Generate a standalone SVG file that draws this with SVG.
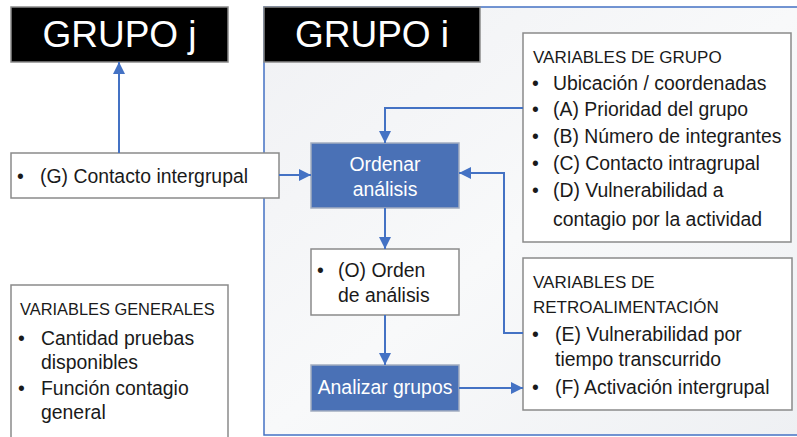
<svg xmlns="http://www.w3.org/2000/svg" width="797" height="437" viewBox="0 0 797 437">
<style>
text{font-family:"Liberation Sans",Arial,sans-serif;fill:#1a1a1a;font-size:19.4px}
.title{fill:#fff;font-size:37px;text-anchor:middle}
.hdr{font-size:17px}
.hdr2{font-size:16.4px}
.wt{fill:#fff;text-anchor:middle}
.box{fill:#fff;stroke:#8a8a8a;stroke-width:1.5}
.blue{fill:#4a71b6;stroke:#a3adc0;stroke-width:1.5}
.blk{fill:#000;stroke:#8a8a8a;stroke-width:1.5}
.con{fill:none;stroke:#4472c4;stroke-width:2}
</style>
<defs>
<linearGradient id="bg" x1="0" y1="0" x2="1" y2="1">
<stop offset="0" stop-color="#f0f1f4"/><stop offset="0.5" stop-color="#f8f9fa"/><stop offset="1" stop-color="#eef0f3"/>
</linearGradient>
<marker id="ah" viewBox="0 0 12 12" refX="12" refY="6" markerWidth="12" markerHeight="12" markerUnits="userSpaceOnUse" orient="auto">
<path d="M0,0 L12,6 L0,12 Z" fill="#4472c4"/>
</marker>
</defs>
<rect x="0" y="0" width="797" height="437" fill="#fff"/>
<g id="frame">
<rect x="264" y="7" width="540" height="428" fill="url(#bg)" stroke="#4472c4" stroke-width="1.5"/>
</g>
<g id="grupo-j"><rect class="blk" x="11" y="7" width="217" height="55"/><text class="title" x="119.5" y="47">GRUPO j</text></g>
<g id="grupo-i"><rect class="blk" x="264" y="7" width="216" height="55"/><text class="title" x="372" y="47">GRUPO i</text></g>
<g id="contacto"><rect class="box" x="11" y="153" width="268" height="45"/><text x="17" y="183">•</text><text x="40" y="183">(G) Contacto intergrupal</text></g>
<g id="ordenar"><rect class="blue" x="311" y="143" width="148" height="65"/><text class="wt" x="385" y="171">Ordenar</text><text class="wt" x="385" y="196">análisis</text></g>
<g id="orden"><rect class="box" x="311" y="249" width="148" height="66"/><text x="317" y="277">•</text><text x="338" y="277">(O) Orden</text><text x="338" y="302">de análisis</text></g>
<g id="analizar"><rect class="blue" x="311" y="365" width="148" height="46"/><text class="wt" x="385" y="394">Analizar grupos</text></g>
<g id="var-grupo"><rect class="box" x="523" y="33" width="268" height="209"/>
<text class="hdr" x="533" y="63">VARIABLES DE GRUPO</text>
<text x="532" y="90">•</text><text x="553" y="90">Ubicación / coordenadas</text>
<text x="532" y="116">•</text><text x="553" y="116">(A) Prioridad del grupo</text>
<text x="532" y="143">•</text><text x="553" y="143">(B) Número de integrantes</text>
<text x="532" y="170">•</text><text x="553" y="170">(C) Contacto intragrupal</text>
<text x="532" y="197">•</text><text x="553" y="197">(D) Vulnerabilidad a</text>
<text x="553" y="226">contagio por la actividad</text>
</g>
<g id="var-retro"><rect class="box" x="523" y="258" width="269" height="152"/>
<text class="hdr" x="533" y="288">VARIABLES DE</text>
<text class="hdr" x="533" y="313">RETROALIMENTACIÓN</text>
<text x="532" y="341">•</text><text x="555" y="341">(E) Vulnerabilidad por</text>
<text x="555" y="366">tiempo transcurrido</text>
<text x="532" y="394">•</text><text x="555" y="394">(F) Activación intergrupal</text>
</g>
<g id="var-generales"><rect class="box" x="11" y="285" width="217" height="160"/>
<text class="hdr2" x="20" y="315">VARIABLES GENERALES</text>
<text x="18" y="345">•</text><text x="41" y="345">Cantidad pruebas</text>
<text x="41" y="369">disponibles</text>
<text x="18" y="395">•</text><text x="41" y="395">Función contagio</text>
<text x="41" y="419">general</text>
</g>
<g id="connectors">
<path class="con" d="M119,153 V62" marker-end="url(#ah)"/>
<path class="con" d="M279,175 H311" marker-end="url(#ah)"/>
<path class="con" d="M523,108 H385 V143" marker-end="url(#ah)"/>
<path class="con" d="M523,333 H504 V173 H459" marker-end="url(#ah)"/>
<path class="con" d="M385,208 V249" marker-end="url(#ah)"/>
<path class="con" d="M385,315 V365" marker-end="url(#ah)"/>
<path class="con" d="M459,388 H523" marker-end="url(#ah)"/>
</g>
</svg>
